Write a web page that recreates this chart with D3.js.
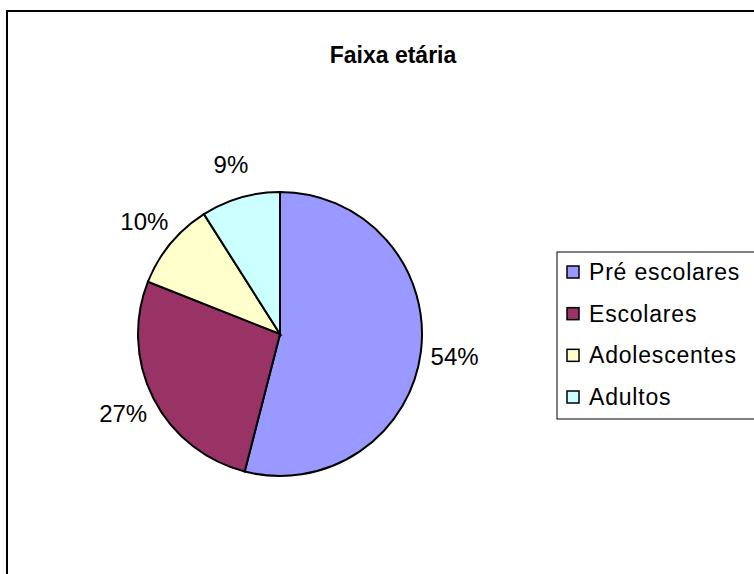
<!DOCTYPE html>
<html><head><meta charset="utf-8">
<script src="https://cdn.jsdelivr.net/npm/d3@7"></script>
<style>body{margin:0;background:#fff;}svg{display:block;}text{font-family:"Liberation Sans",Arial,sans-serif;}</style>
</head><body>
<svg id="c" width="754" height="574"></svg>
<script>
const categories = ["Pré escolares", "Escolares", "Adolescentes", "Adultos"];
const values = [54, 27, 10, 9];
const colors = ["#9999FF", "#993366", "#FFFFCC", "#CCFFFF"];
const title = "Faixa etária";

const svg = d3.select("#c");
// chart area border (extends past right/bottom)
svg.append("rect").attr("x", 7).attr("y", 11).attr("width", 800).attr("height", 600)
  .attr("fill", "#fff").attr("stroke", "#000").attr("stroke-width", 2);

svg.append("text").attr("x", 393).attr("y", 63).attr("text-anchor", "middle")
  .attr("font-size", 23).attr("font-weight", "bold").text(title);

const cx = 280, cy = 334, r = 142;
const total = d3.sum(values);
const pie = d3.pie().sort(null).value(d => d)(values);
const arc = d3.arc().innerRadius(0).outerRadius(r);
const labelArc = d3.arc().innerRadius(r + 34).outerRadius(r + 34);
const g = svg.append("g").attr("transform", `translate(${cx},${cy})`);
g.selectAll("path").data(pie).join("path").attr("d", arc)
  .attr("fill", (d, i) => colors[i]).attr("stroke", "#000").attr("stroke-width", 2);
g.selectAll("text").data(pie).join("text")
  .attr("transform", d => `translate(${labelArc.centroid(d)})`)
  .attr("text-anchor", "middle").attr("dominant-baseline", "central")
  .attr("font-size", 24)
  .text(d => Math.round(d.value / total * 100) + "%");

// legend
const lg = svg.append("g");
lg.append("rect").attr("x", 557).attr("y", 252).attr("width", 260).attr("height", 167)
  .attr("fill", "#fff").attr("stroke", "#000").attr("stroke-width", 1);
const y = d3.scalePoint().domain(categories).range([272, 397]);
const items = lg.selectAll("g.it").data(categories).join("g").attr("class", "it");
items.append("rect").attr("x", 567).attr("y", d => y(d) - 6).attr("width", 12).attr("height", 12)
  .attr("fill", (d, i) => colors[i]).attr("stroke", "#000").attr("stroke-width", 1.5);
items.append("text").attr("x", 589).attr("y", d => y(d)).attr("dominant-baseline", "central")
  .attr("font-size", 23).attr("letter-spacing", 0.8).text(d => d);
</script>
</body></html>
